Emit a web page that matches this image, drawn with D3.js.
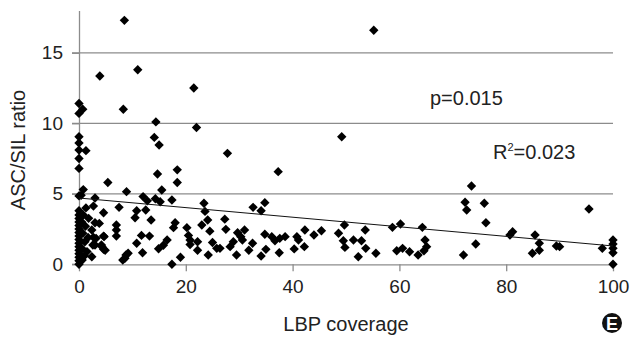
<!DOCTYPE html>
<html>
<head>
<meta charset="utf-8">
<script src="https://cdn.jsdelivr.net/npm/d3@7"></script>
<style>
  body { margin: 0; background: #fff; }
  svg { display: block; font-family: "Liberation Sans", Arial, sans-serif; }
</style>
</head>
<body>
<svg id="chart" width="633" height="338"></svg>
<script>
// LBP coverage (x) and ASC/SIL ratio (y)
var lbpCoverage = [
  8.5, 3.9, 11.0, 21.5, 0, 0.7, 0, 8.3, 14.4, 22.0, 0, 14.1, 55.2, 49.2,
  0, 0, 1.3, 0, 0,
  15.0, 14.7, 18.4, 18.4, 5.4, 8.9, 0.8, 0, 0.4, 15.5, 27.8, 37.3,
  12.0, 12.8, 14.3, 15.2, 17.4, 3.0, 2.7, 7.5, 10.8, 10.5, 12.5, 4.6, 13.5, 23.4, 23.6, 24.1,
  1.8, 3.0, 7.0, 7.0, 7.0, 2.4, 2.7, 4.6, 3.0, 4.2, 4.6, 2.4, 8.6, 9.2, 8.2, 8.8,
  10.8, 11.7, 13.2, 11.9, 14.9, 15.8, 16.5, 18.0, 17.7,
  20.2, 20.5, 20.8, 20.8, 22.2, 19.0, 17.4, 23.0, 24.5, 25.0, 25.8, 22.2, 27.3, 27.5,
  3.8, 3.2, 4.7, 2.6, 4.3, 4.9, 26.4, 28.3, 28.9, 29.5, 24.2,
  32.6, 34.1, 34.8, 31.0, 30.3, 29.7, 30.6, 32.5, 31.8, 34.1, 35.0, 34.8, 36.1, 36.7, 37.6,
  38.6, 37.5, 40.3, 40.8, 41.1, 42.3, 42.2, 44.0, 45.4, 48.6, 49.7, 49.5, 49.8, 51.4,
  73.5, 72.3, 72.6, 58.7, 60.2, 64.3, 53.6, 52.9, 53.7, 52.3, 55.6, 59.5, 60.6, 61.9,
  64.8, 65.1, 64.6, 63.5, 72.0, 74.3,
  75.9, 76.2, 95.5, 80.7, 81.2, 85.4, 86.2, 86.2, 84.9, 89.4, 90.0, 98.0,
  100, 100, 100, 100, 100,
  0, 0, 0, 0, 0, 0, 0, 0, 0, 0, 0, 0, 0, 0, 0, 0,
  0.6, 0.6, 0.7, 0.5, 1.0, 1.1, 1.2, 1.5, 1.7, 0.8, 1.3
];
var ascSilRatio = [
  17.3, 13.35, 13.8, 12.5, 11.4, 11.0, 10.7, 11.0, 10.1, 9.7, 9.05, 9.0, 16.6, 9.05,
  8.6, 8.1, 8.06, 7.5, 6.8,
  8.46, 6.4, 6.7, 5.8, 5.8, 5.15, 5.3, 4.85, 4.9, 5.27, 7.87, 6.57,
  4.8, 4.5, 4.65, 4.44, 4.56, 4.7, 4.13, 4.04, 3.8, 3.3, 3.85, 3.66, 3.14, 4.33, 3.75, 3.14,
  3.26, 2.95, 2.79, 2.43, 2.0, 2.43, 1.91, 2.0, 1.37, 1.37, 1.06, 0.54, 0.43, 0.78, 0.3, 0.66,
  1.49, 2.05, 2.0, 0.82, 1.1, 1.35, 1.72, 2.95, 2.6,
  2.6, 2.05, 1.72, 1.4, 1.6, 0.5, 0, 2.79, 2.35, 1.55, 1.13, 1.0, 3.2, 2.48,
  2.9, 1.84, 1.96, 1.37, 1.25, 1.0, 1.13, 1.25, 1.6, 0.66, 0.66,
  4.04, 3.8, 4.37, 2.43, 1.96, 2.24, 1.72, 1.49, 1.0, 0.59, 1.06, 2.13, 1.96, 1.67, 1.84,
  1.96, 0.82, 1.09, 1.96, 1.72, 2.43, 1.25, 2.08, 2.38, 2.2, 2.79, 1.67, 1.2, 1.72,
  5.55, 4.4, 3.85, 2.62, 2.86, 2.62, 2.43, 1.67, 1.13, 0.54, 0.78, 0.96, 1.13, 0.89,
  1.72, 1.25, 0.96, 0.66, 0.66, 1.44,
  4.33, 2.95, 3.92, 2.08, 2.31, 2.08, 1.49, 1.0, 0.78, 1.3, 1.25, 1.13,
  1.72, 1.44, 1.13, 0.82, 0,
  0, 0.25, 0.5, 0.75, 1.0, 1.25, 1.5, 1.75, 2.0, 2.25, 2.5, 2.75, 3.0, 3.25, 3.5, 3.8,
  0.3, 1.1, 2.2, 3.0, 0.6, 1.6, 2.7, 0.9, 1.9, 3.5, 4.0
];
var xTicks = [0, 20, 40, 60, 80, 100];
var yTicks = [0, 5, 10, 15];
var trendX = [0, 100];
var trendY = [4.7, 1.3];

var points = lbpCoverage.map(function(x, i) { return { x: x, y: ascSilRatio[i] }; });

var svg = d3.select('#chart');
var x = d3.scaleLinear().domain([0, 100]).range([79, 613]);
var y = d3.scaleLinear().domain([0, 18]).range([264.3, 10.5]);
var gray = '#8c8c8c';

// grid lines (they also run a little left of the axis, as tick marks)
svg.append('g').selectAll('line.grid')
    .data(yTicks.filter(function(d) { return d > 0; }))
    .enter().append('line')
    .attr('class', 'grid')
    .attr('x1', x(0) - 7).attr('x2', x(100))
    .attr('y1', function(d) { return y(d); })
    .attr('y2', function(d) { return y(d); })
    .attr('stroke', gray).attr('stroke-width', 1.3);

var yAxis = svg.append('g')
    .attr('transform', 'translate(' + x(0) + ',0)')
    .call(d3.axisLeft(y).tickValues(yTicks).tickSize(7).tickSizeOuter(0).tickPadding(9));
var xAxis = svg.append('g')
    .attr('transform', 'translate(0,' + y(0) + ')')
    .call(d3.axisBottom(x).tickValues(xTicks).tickSize(7).tickSizeOuter(0).tickPadding(8));

[yAxis, xAxis].forEach(function(a) {
    a.selectAll('path, line').attr('stroke', gray).attr('stroke-width', 1.3);
    a.selectAll('text').attr('fill', '#222').style('font-size', '19px')
        .style('font-family', '"Liberation Sans", Arial, sans-serif');
});
// extend the x axis line left, like the grid lines
xAxis.append('line').attr('x1', x(0) - 7).attr('x2', x(0))
    .attr('stroke', gray).attr('stroke-width', 1.3);

// points
svg.append('g').selectAll('.pt')
    .data(points)
    .enter().append('path')
    .attr('class', 'pt')
    .attr('d', d3.symbol(d3.symbolSquare, 44))
    .attr('transform', function(d) { return 'translate(' + x(d.x) + ',' + y(d.y) + ') rotate(45)'; })
    .attr('fill', '#000');

// trend line
svg.append('path')
    .datum(trendX.map(function(d, i) { return [d, trendY[i]]; }))
    .attr('d', d3.line().x(function(d) { return x(d[0]); }).y(function(d) { return y(d[1]); }))
    .attr('stroke', '#111').attr('stroke-width', 1).attr('fill', 'none');

// labels
svg.append('text').attr('x', 346).attr('y', 331).attr('text-anchor', 'middle')
    .style('font-size', '20px').attr('fill', '#222').text('LBP coverage');
svg.append('text').attr('transform', 'translate(25,150) rotate(-90)').attr('text-anchor', 'middle')
    .style('font-size', '20px').attr('fill', '#222').text('ASC/SIL ratio');

svg.append('text').attr('x', 430).attr('y', 105).style('font-size', '20px').attr('fill', '#222')
    .text('p=0.015');
var r2 = svg.append('text').attr('x', 493).attr('y', 159).style('font-size', '20px').attr('fill', '#222');
r2.append('tspan').text('R');
r2.append('tspan').attr('dy', -8).style('font-size', '11px').text('2');
r2.append('tspan').attr('dy', 8).text('=0.023');

// panel badge
svg.append('circle').attr('cx', 612).attr('cy', 323).attr('r', 10).attr('fill', '#111');
svg.append('text').attr('x', 612).attr('y', 330).attr('text-anchor', 'middle')
    .style('font-size', '18px').style('font-weight', 'bold').attr('fill', '#fff').text('E');
</script>
</body>
</html>
